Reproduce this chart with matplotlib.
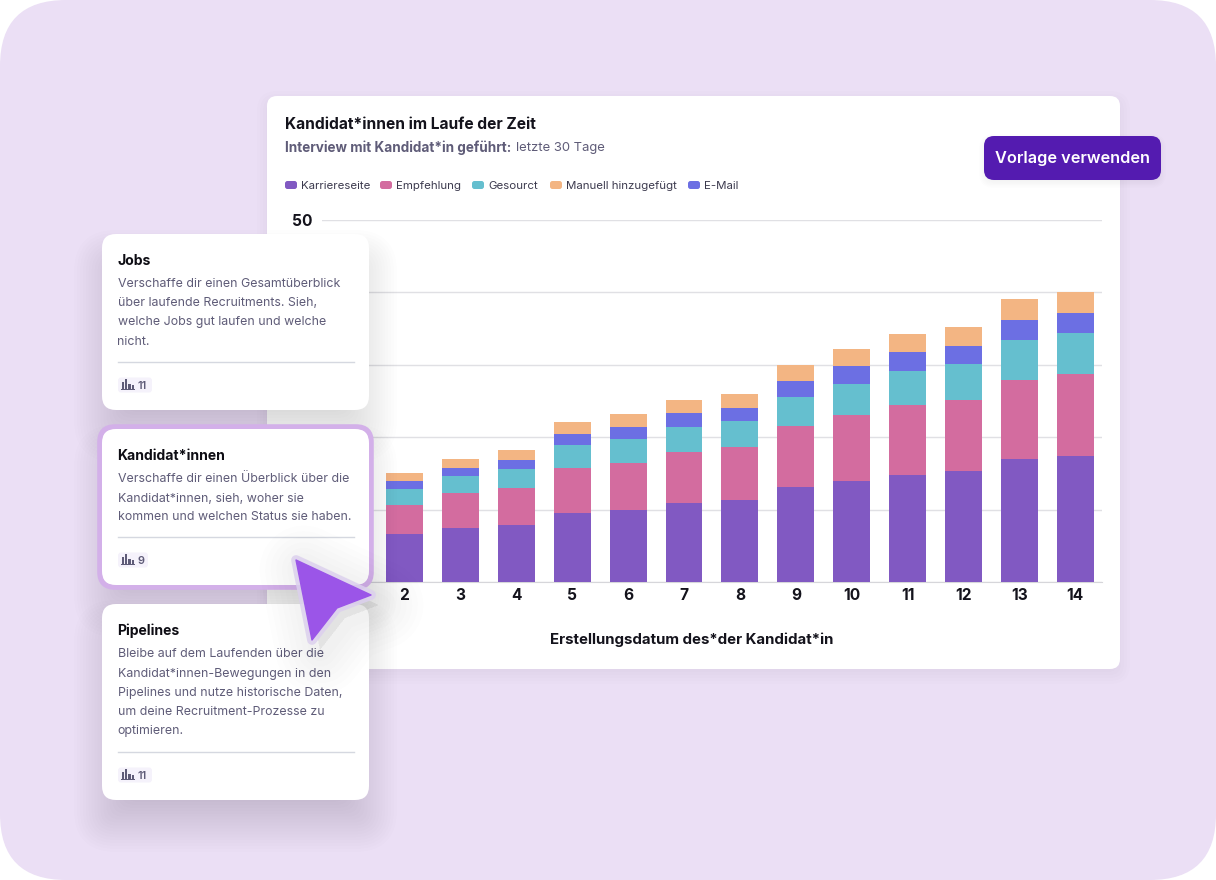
import numpy as np
import matplotlib
matplotlib.use('Agg')
import matplotlib.pyplot as plt
from matplotlib.patches import FancyBboxPatch, Polygon, Rectangle

plt.rcParams['font.family'] = ['Inter', 'DejaVu Sans']

# chart data, day 1 is hidden behind the cards in the picture
days = [2, 3, 4, 5, 6, 7, 8, 9, 10, 11, 12, 13, 14]
karriereseite = [6.6, 7.5, 7.9, 9.5, 9.9, 10.9, 11.3, 13.1, 14.0, 14.8, 15.3, 17.0, 17.4]
empfehlung = [4.1, 4.8, 5.1, 6.2, 6.6, 7.0, 7.3, 8.4, 9.0, 9.7, 9.8, 10.9, 11.3]
gesourct = [2.2, 2.3, 2.6, 3.2, 3.2, 3.5, 3.7, 4.1, 4.4, 4.7, 5.0, 5.5, 5.7]
email = [1.0, 1.2, 1.2, 1.5, 1.7, 1.9, 1.8, 2.2, 2.5, 2.5, 2.5, 2.8, 2.8]
manuell = [1.1, 1.2, 1.4, 1.7, 1.8, 1.8, 1.9, 2.2, 2.3, 2.5, 2.6, 2.9, 2.9]

series = [karriereseite, empfehlung, gesourct, email, manuell]
colors = ['#8159C2', '#D36C9F', '#65BFCF', '#6C6FE3', '#F3B583']

legend_names = ['Karriereseite', 'Empfehlung', 'Gesourct', 'Manuell hinzugefügt', 'E-Mail']
legend_colors = ['#8159C2', '#D36C9F', '#65BFCF', '#F3B583', '#6C6FE3']
legend_x = [285, 380, 472, 550, 688]

W, H = 1216, 880
DARK = '#14131C'
GREY = '#5F5C78'


def px(size):
    return size * 0.72


def box(ax, x0, y0, x1, y1, r, color, z=1, alpha=1.0, lw=0, ec='none'):
    p = FancyBboxPatch((x0, y0), x1 - x0, y1 - y0, boxstyle='round,pad=0,rounding_size=%g' % r,
                       fc=color, ec=ec, lw=lw, alpha=alpha, zorder=z)
    ax.add_patch(p)


def shadow(ax, x0, y0, x1, y1, r, grow=28, shrink=22, dy=24, strength=0.006, z=1, steps=18):
    # soft shadow, a pile of very faint boxes
    for e in np.linspace(grow, -shrink, steps):
        box(ax, x0 - e, y0 - e + dy, x1 + e, y1 + e + dy, r + max(e, 0), '#2F2A45', z=z, alpha=strength)


def pixel_axes(z):
    a = fig.add_axes([0, 0, 1, 1], zorder=z)
    a.set_xlim(0, W)
    a.set_ylim(H, 0)
    a.axis('off')
    a.patch.set_alpha(0)
    return a


fig = plt.figure(figsize=(W / 100, H / 100), dpi=100, facecolor='white')

#### background and main white card
bg = pixel_axes(0)
box(bg, 0, 0, W, H, 66, '#EBDFF5')
shadow(bg, 267, 96, 1120, 669, 10, grow=10, shrink=2, dy=5, strength=0.006, steps=5)
box(bg, 267, 96, 1120, 669, 10, 'white', z=3)

bg.text(285, 124.5, 'Kandidat*innen im Laufe der Zeit', fontsize=px(15.55), fontweight='bold', color=DARK, va='center', zorder=4)
bg.text(285, 147.5, 'Interview mit Kandidat*in geführt:', fontsize=px(13.5), fontweight='bold', color=GREY, va='center', zorder=4)
bg.text(516, 147.5, 'letzte 30 Tage', fontsize=px(13), color=GREY, va='center', zorder=4)

for name, c, x in zip(legend_names, legend_colors, legend_x):
    box(bg, x, 181, x + 12, 189, 2.5, c, z=4)
    bg.text(x + 16, 186, name, fontsize=px(11.5), color='#3C3A4E', va='center', zorder=4)

#### stacked bars
L, R, T, B = 322, 1102, 220, 582
ax = fig.add_axes([L / W, 1 - B / H, (R - L) / W, (B - T) / H], zorder=1)
ax.patch.set_alpha(0)
bottom = np.zeros(len(days))
for values, c in zip(series, colors):
    ax.bar(days, values, width=0.66, bottom=bottom, color=c, zorder=3)
    bottom = bottom + np.array(values)
ax.set_xlim(0.524, 14.477)
ax.set_ylim(0, 50)
# the lower y labels are covered by the cards
ax.set_yticks([0, 10, 20, 30, 40, 50], ['', '', '', '', '', '50'])
ax.set_xticks(days)
ax.grid(axis='y', color='#E0E0E4', lw=1)
ax.set_axisbelow(True)
for s in ['top', 'right', 'left']:
    ax.spines[s].set_visible(False)
ax.spines['bottom'].set_color('#D6D6DA')
ax.tick_params(length=0, labelsize=px(15.5), labelcolor=DARK)
ax.tick_params(axis='x', pad=4)
ax.tick_params(axis='y', pad=7)
for t in ax.get_xticklabels() + ax.get_yticklabels():
    t.set_fontweight('bold')
ax.set_xlabel('Erstellungsdatum des*der Kandidat*in', fontsize=px(15), fontweight='bold', color=DARK)
ax.xaxis.set_label_coords((692 - L) / (R - L), -0.14)

#### overlay: button, side cards, cursor
top = pixel_axes(2)
shadow(top, 984, 136, 1161, 180, 10, grow=5, shrink=2, dy=3, strength=0.008, steps=6)
box(top, 984, 136, 1161, 180, 10, '#541BB0', z=2)
top.text(1072.5, 158, 'Vorlage verwenden', fontsize=px(16.3), fontweight='semibold', color='white', ha='center', va='center', zorder=3)


def icon(a, x, y, z):
    for dx, h in zip([1, 4.2, 7.4, 10.6], [7, 9.5, 5, 3.5]):
        a.add_patch(Rectangle((x + dx, y + 9.5 - h), 2.2, h, fc='#5F5C78', ec='none', zorder=z))
    a.add_patch(Rectangle((x, y + 9.5), 13.5, 1.2, fc='#5F5C78', ec='none', zorder=z))


def card(a, y0, y1, title, lines, line_y, rule_y, count, chip_w):
    box(a, 102, y0, 369, y1, 14, 'white', z=5)
    a.text(117.5, y0 + 27, title, fontsize=px(14), fontweight='bold', color='#0E0D14', va='center', zorder=6)
    for line, y in zip(lines, line_y):
        a.text(117.5, y, line, fontsize=px(12.4), color=GREY, va='center', zorder=6)
    a.plot([118, 354], [rule_y, rule_y], color='#D5D8E0', lw=1, zorder=6)
    box(a, 118, rule_y + 15, 118 + chip_w, rule_y + 30, 3, '#F5F2FB', z=6)
    icon(a, 121, rule_y + 17, 7)
    a.text(138, rule_y + 23.5, count, fontsize=px(11), fontweight='semibold', color=GREY, va='center', zorder=7)


shadow(top, 102, 234, 369, 410, 14, z=2)
shadow(top, 102, 429, 369, 585, 14, z=2)
shadow(top, 102, 604, 369, 800, 14, z=2)

card(top, 234, 410, 'Jobs',
     ['Verschaffe dir einen Gesamtüberblick', 'über laufende Recruitments. Sieh,',
      'welche Jobs gut laufen und welche', 'nicht.'],
     [284, 303.5, 322, 342], 362.5, '11', 34)

box(top, 100, 427, 371, 587, 15, 'white', z=4, lw=4, ec='#D3B0E9')
card(top, 429, 585, 'Kandidat*innen',
     ['Verschaffe dir einen Überblick über die', 'Kandidat*innen, sieh, woher sie',
      'kommen und welchen Status sie haben.'],
     [479, 499, 517], 537.5, '9', 30)

card(top, 604, 800, 'Pipelines',
     ['Bleibe auf dem Laufenden über die', 'Kandidat*innen-Bewegungen in den',
      'Pipelines und nutze historische Daten,', 'um deine Recruitment-Prozesse zu', 'optimieren.'],
     [654, 674, 693, 712, 731], 752.5, '11', 34)

arrow = np.array([[296, 560], [371, 595], [337, 608], [312, 640]])
for lw in range(64, 8, -8):
    top.add_patch(Polygon(arrow + [8, 10], closed=True, fc='#2F2A45', ec='#2F2A45', lw=lw, alpha=0.008,
                          joinstyle='round', zorder=8))
top.add_patch(Polygon(arrow, closed=True, fc='#DCD0EE', ec='#DCD0EE', lw=7, alpha=0.85, joinstyle='round', zorder=9))
top.add_patch(Polygon(arrow, closed=True, fc='#9B55E8', ec='#9B55E8', lw=1, joinstyle='round', zorder=10))

fig.savefig('out.png', dpi=100)
